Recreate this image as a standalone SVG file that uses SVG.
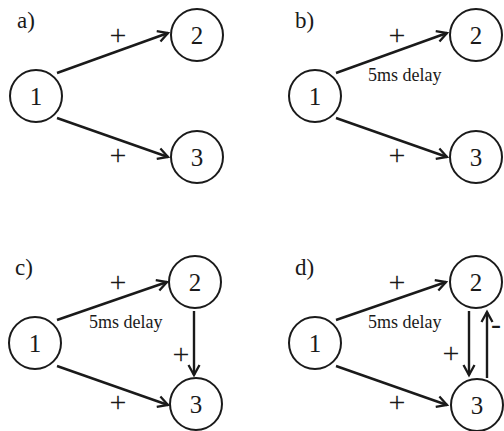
<svg xmlns="http://www.w3.org/2000/svg" width="504" height="431" viewBox="0 0 504 431">
<defs>
<marker id="ah" markerUnits="userSpaceOnUse" markerWidth="16" markerHeight="16" viewBox="-12 -8 14 16" refX="0" refY="0" orient="auto">
<path d="M-10,-5.5 L0,0 L-10,5.5" fill="none" stroke="#1a1a1a" stroke-width="2.3" stroke-linejoin="miter"/>
</marker>
</defs>
<style>
.n circle{fill:#fff;stroke:#1a1a1a;stroke-width:2}
.n text{font-size:25px;text-anchor:middle;fill:#1a1a1a}
.e line{stroke:#1a1a1a;stroke-width:2.4;marker-end:url(#ah)}
.lbl{fill:#1a1a1a}
.pl{font-size:30px;text-anchor:middle}
.pt{font-size:23px}
.dl{font-size:18px}
</style>
<rect width="504" height="431" fill="#fff"/>
<g font-family="'Liberation Serif', 'Times New Roman', serif">
<g id="panel-labels" class="lbl">
<text class="pt" x="17" y="28">a)</text>
<text class="pt" x="295" y="28">b)</text>
<text class="pt" x="15" y="275">c)</text>
<text class="pt" x="295" y="275">d)</text>
</g>

<g id="connectors">
<g class="e">
<line x1="57" y1="73" x2="168" y2="33"/>
<line x1="57" y1="118" x2="168" y2="157"/>
<line x1="336" y1="73" x2="447" y2="33"/>
<line x1="336" y1="118" x2="447" y2="157"/>
<line x1="57" y1="320" x2="167" y2="282"/>
<line x1="57" y1="366" x2="168" y2="405"/>
<line x1="194" y1="311" x2="194" y2="375"/>
<line x1="336" y1="320" x2="446" y2="282"/>
<line x1="336" y1="366" x2="447" y2="405"/>
<line x1="469" y1="311" x2="469" y2="375"/>
<line x1="487" y1="378" x2="487" y2="312"/>
</g>
<g class="lbl">
<text class="pl" x="118" y="45">+</text>
<text class="pl" x="118" y="165">+</text>
<text class="pl" x="397" y="45">+</text>
<text class="pl" x="397" y="165">+</text>
<text class="dl" x="368" y="81">5ms delay</text>
<text class="pl" x="118" y="292">+</text>
<text class="pl" x="118" y="412">+</text>
<text class="dl" x="89" y="328">5ms delay</text>
<text class="pl" x="181" y="364">+</text>
<text class="pl" x="397" y="292">+</text>
<text class="pl" x="397" y="412">+</text>
<text class="dl" x="368" y="328">5ms delay</text>
<text class="pl" x="451" y="363">+</text>
<text class="pl" x="496" y="334">-</text>
</g>
</g>

<g id="a-n1" class="n"><circle cx="36" cy="96" r="26"/><text x="36" y="105">1</text></g>
<g id="a-n2" class="n"><circle cx="197" cy="35" r="26"/><text x="197" y="44">2</text></g>
<g id="a-n3" class="n"><circle cx="197" cy="157" r="26"/><text x="197" y="166">3</text></g>

<g id="b-n1" class="n"><circle cx="315" cy="96" r="26"/><text x="315" y="105">1</text></g>
<g id="b-n2" class="n"><circle cx="476" cy="35" r="26"/><text x="476" y="44">2</text></g>
<g id="b-n3" class="n"><circle cx="476" cy="157" r="26"/><text x="476" y="166">3</text></g>

<g id="c-n1" class="n"><circle cx="35" cy="343" r="26"/><text x="35" y="352">1</text></g>
<g id="c-n2" class="n"><circle cx="195" cy="282" r="26"/><text x="195" y="291">2</text></g>
<g id="c-n3" class="n"><circle cx="196" cy="404" r="26"/><text x="196" y="413">3</text></g>

<g id="d-n1" class="n"><circle cx="315" cy="343" r="26"/><text x="315" y="352">1</text></g>
<g id="d-n2" class="n"><circle cx="476" cy="282" r="26"/><text x="476" y="291">2</text></g>
<g id="d-n3" class="n"><circle cx="477" cy="405" r="26"/><text x="477" y="414">3</text></g>
</g>
</svg>
